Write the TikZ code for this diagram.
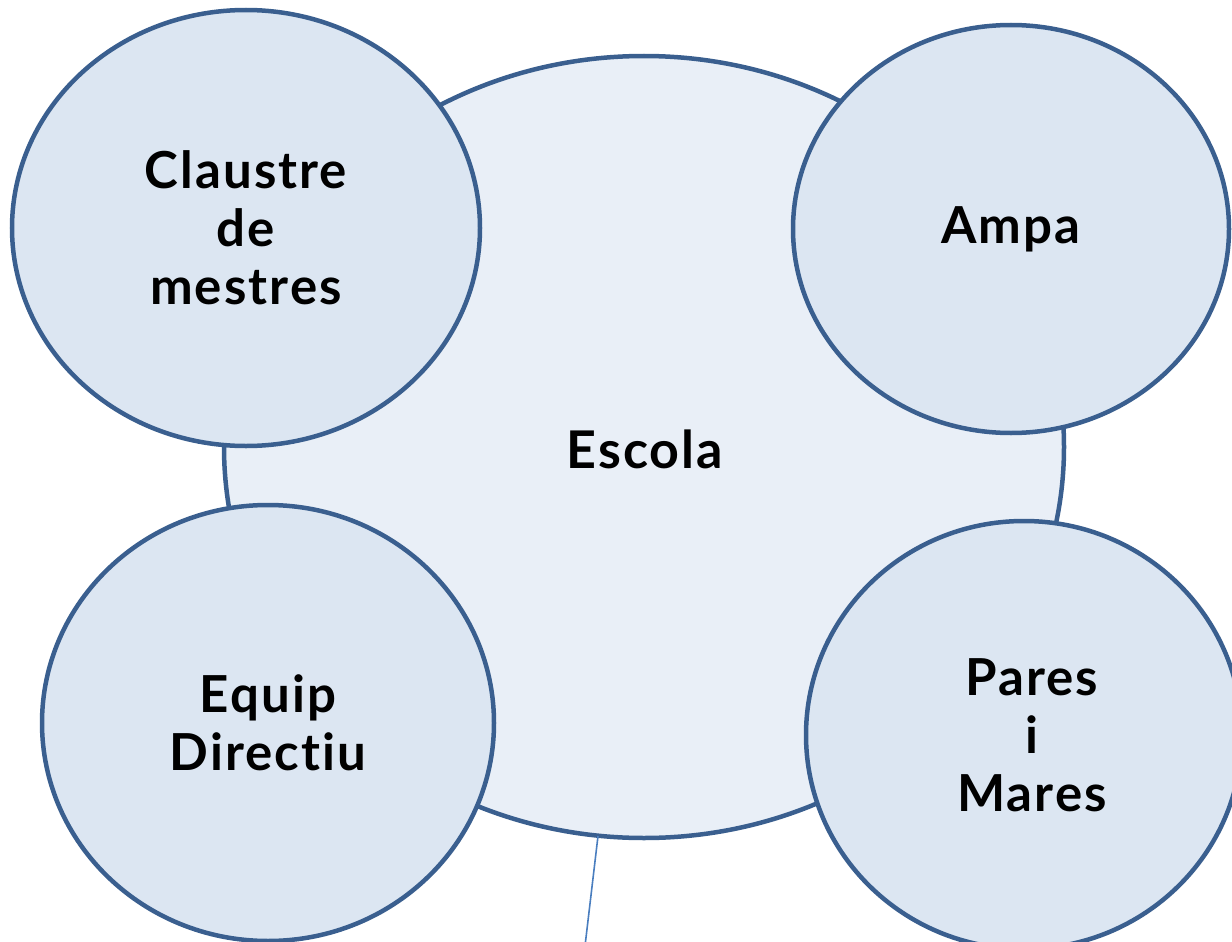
\documentclass[tikz,border=0pt]{standalone}
\usepackage{fontspec}
\setmainfont{Lato}[LetterSpace=4,Ligatures={NoCommon}]
\usetikzlibrary{shapes.geometric}
\definecolor{edge}{HTML}{3A5F8F}
\definecolor{outerfill}{HTML}{DCE6F2}
\definecolor{innerfill}{HTML}{E9EFF7}
\definecolor{thinline}{HTML}{4A7EBF}
\tikzset{
  bubble/.style={ellipse, draw=edge, line width=4.5pt, fill=outerfill, inner sep=0pt,
    align=center, font=\fontsize{51}{58}\selectfont\bfseries},
  hub/.style={bubble, fill=innerfill},
  bubbletext/.style={align=center, inner sep=0pt, font=\fontsize{51}{58}\selectfont\bfseries}
}
\begin{document}
\begin{tikzpicture}[x=1pt,y=-1pt]
\useasboundingbox (0,0) rectangle (1232,942);
\clip (0,0) rectangle (1232,942);
\node[hub, minimum width=840pt, minimum height=782pt] (escola) at (644,447) {};
\node[font=\fontsize{52}{60}\selectfont\bfseries] (escolatxt) at (645,449) {Escola};
\coordinate (tail) at (585,946);
\draw[thinline, line width=1.6pt] (598,836) -- (tail);
\node[bubble, minimum width=468pt, minimum height=436pt] (claustre) at (246,228) {Claustre\\de\\mestres};
\node[bubble, minimum width=436pt, minimum height=408pt] (ampa) at (1011,229) {Ampa};
\node[bubble, minimum width=452pt, minimum height=436pt] (equip) at (268,723) {Equip\\Directiu};
\node[bubble, minimum width=436pt, minimum height=428pt] (pares) at (1024,735) {};
\node[bubbletext] (parestxt) at ([xshift=8pt]pares.center) {Pares\\i\\Mares};
\end{tikzpicture}
\end{document}
